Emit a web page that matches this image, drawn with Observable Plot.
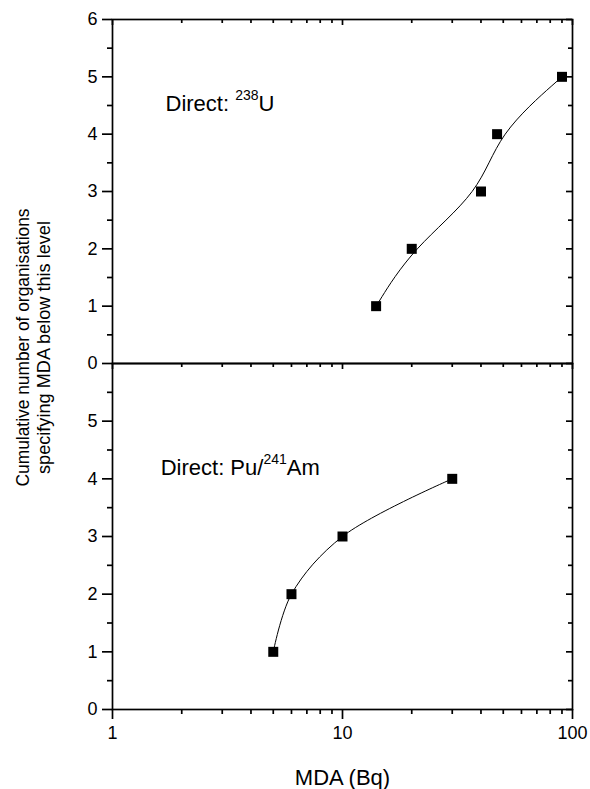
<!DOCTYPE html>
<html><head><meta charset="utf-8">
<script src="https://cdn.jsdelivr.net/npm/d3@7"></script>
<script src="https://cdn.jsdelivr.net/npm/@observablehq/plot@0.6"></script>
<style>
body{margin:0;background:#fff;}
#chart{position:relative;width:590px;height:789px;}
#chart svg{position:absolute;left:0;top:0;background:transparent;}
</style></head><body><div id="chart"></div>
<script>
// Data
const uMDA = [14, 20, 40, 47, 90];
const uCount = [1, 2, 3, 4, 5];
const amMDA = [5, 6, 10, 30];
const amCount = [1, 2, 3, 4];
const xMajor = [1, 10, 100];
const xMinor = [2, 3, 4, 5, 6, 7, 8, 9, 20, 30, 40, 50, 60, 70, 80, 90];
const yMajorTop = [0, 1, 2, 3, 4, 5, 6];
const yMajorBottom = [0, 1, 2, 3, 4, 5];
const yMinor = [0.5, 1.5, 2.5, 3.5, 4.5, 5.5];
const xLabel = "MDA (Bq)";
const yLabel = ["Cumulative number of organisations", "specifying MDA below this level"];
const topNote = ["Direct: ", "238", "U"];
const bottomNote = ["Direct: Pu/", "241", "Am"];

const FONT = "Arial, 'Liberation Sans', sans-serif";
const W = 590, H = 789, ML = 112, MR = 18;
const SW = 1.7;

const uData = uMDA.map((x, i) => ({x, y: uCount[i]}));
const amData = amMDA.map((x, i) => ({x, y: amCount[i]}));

function panelMarks(yMajor, data, withBottomAxis, curve) {
  return [
    Plot.axisY({ticks: yMajor, tickSize: 10, tickPadding: 5, tickFormat: d => String(d), label: null, strokeWidth: SW, fontSize: 18}),
    Plot.axisY({ticks: yMinor, tickSize: 5, fill: "none", label: null, strokeWidth: SW}),
    Plot.axisY({ticks: yMajor, anchor: "left", frameAnchor: "right", tickSize: 6, fill: "none", label: null, strokeWidth: SW}),
    Plot.axisY({ticks: yMinor, anchor: "left", frameAnchor: "right", tickSize: 4, fill: "none", label: null, strokeWidth: SW}),
    Plot.axisX({ticks: xMajor, anchor: "bottom", frameAnchor: "top", tickSize: 6, fill: "none", label: null, strokeWidth: SW}),
    Plot.axisX({ticks: xMinor, anchor: "bottom", frameAnchor: "top", tickSize: 4, fill: "none", label: null, strokeWidth: SW}),
    ...(withBottomAxis ? [
      Plot.axisX({ticks: xMajor, anchor: "bottom", tickSize: 10, tickPadding: 7, tickFormat: d => String(d), label: null, strokeWidth: SW, fontSize: 18}),
      Plot.axisX({ticks: xMinor, anchor: "bottom", tickSize: 5, fill: "none", label: null, strokeWidth: SW})
    ] : []),
    Plot.frame({stroke: "black", strokeWidth: SW}),
    Plot.line(data, {x: "x", y: "y", curve, stroke: "black", strokeWidth: 1}),
    Plot.dot(data, {x: "x", y: "y", symbol: "square", r: 5.64, fill: "black", stroke: "none"})
  ];
}

const topPlot = Plot.plot({
  width: W, height: H, marginTop: 19, marginBottom: H - 363, marginLeft: ML, marginRight: MR,
  style: {fontFamily: FONT, fontSize: "18px", color: "black", background: "transparent"},
  x: {type: "log", domain: [1, 100]},
  y: {domain: [0, 6]},
  marks: [
    ...panelMarks(yMajorTop, uData, false, "basis"),
    Plot.text([topNote.join("")], {x: 1.70, y: 4.40, textAnchor: "start", lineAnchor: "bottom", fontSize: 22, fill: "black"}),
    Plot.text([yLabel[0]], {frameAnchor: "left", dx: -90, dy: 156, rotate: -90, fontSize: 19, textAnchor: "middle", lineAnchor: "middle", fill: "black"}),
    Plot.text([yLabel[1]], {frameAnchor: "left", dx: -69, dy: 156, rotate: -90, fontSize: 19, textAnchor: "middle", lineAnchor: "middle", fill: "black"})
  ]
});

const bottomPlot = Plot.plot({
  width: W, height: H, marginTop: 363, marginBottom: 80, marginLeft: ML, marginRight: MR,
  style: {fontFamily: FONT, fontSize: "18px", color: "black", background: "transparent"},
  x: {type: "log", domain: [1, 100]},
  y: {domain: [0, 6]},
  marks: [
    ...panelMarks(yMajorBottom, amData, true, "catmull-rom"),
    Plot.text([bottomNote.join("")], {x: 1.62, y: 4.06, textAnchor: "start", lineAnchor: "bottom", fontSize: 22, fill: "black"}),
    Plot.text([xLabel], {frameAnchor: "bottom", dy: 68, fontSize: 22, textAnchor: "middle", lineAnchor: "middle", fill: "black"})
  ]
});

function superscript(svg, parts) {
  const full = parts.join("");
  d3.select(svg).selectAll("text").filter(function () { return this.textContent === full; }).each(function () {
    const t = d3.select(this);
    t.text(null);
    t.append("tspan").text(parts[0]);
    t.append("tspan").attr("font-size", "14px").attr("dy", "-11px").text(parts[1]);
    t.append("tspan").attr("dy", "11px").text(parts[2]);
  });
}
superscript(topPlot, topNote);
superscript(bottomPlot, bottomNote);

// the y-axis title in the reference is drawn condensed along its length
function fitLength(svg, str, len) {
  d3.select(svg).selectAll("text").filter(function () { return this.textContent === str; })
    .attr("textLength", len).attr("lengthAdjust", "spacingAndGlyphs");
}
fitLength(topPlot, yLabel[0], 278);
fitLength(topPlot, yLabel[1], 253);

const chart = document.getElementById("chart");
chart.appendChild(topPlot);
chart.appendChild(bottomPlot);
</script></body></html>
